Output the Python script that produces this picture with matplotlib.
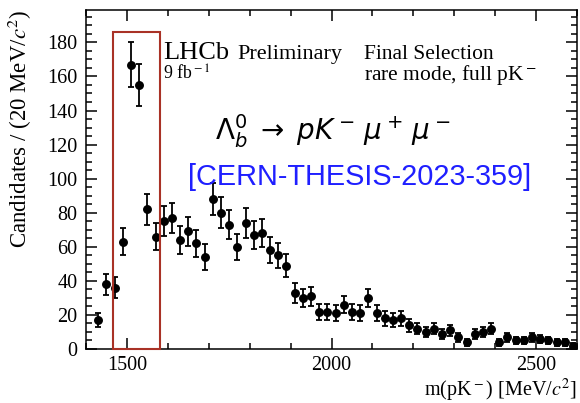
import numpy as np
import matplotlib
matplotlib.use('Agg')
import matplotlib.pyplot as plt
from matplotlib.patches import Rectangle
from matplotlib.ticker import MultipleLocator

plt.rcParams['font.family'] = ['Liberation Serif', 'DejaVu Serif']
plt.rcParams['mathtext.fontset'] = 'stix'

# m(pK-) bin centres (20 MeV bins) and candidate counts per bin
mass = [1430, 1450, 1470, 1490, 1510, 1530, 1550, 1570, 1590, 1610,
        1630, 1650, 1670, 1690, 1710, 1730, 1750, 1770, 1790, 1810,
        1830, 1850, 1870, 1890, 1910, 1930, 1950, 1970, 1990, 2010,
        2030, 2050, 2070, 2090, 2110, 2130, 2150, 2170, 2190, 2210,
        2230, 2250, 2270, 2290, 2310, 2330, 2350, 2370, 2390, 2410,
        2430, 2450, 2470, 2490, 2510, 2530, 2550, 2570, 2590]
counts = [17, 38, 36, 63, 167, 155, 82, 66, 75, 77,
          64, 69, 62, 54, 88, 80, 73, 60, 74, 67,
          68, 58, 55, 49, 33, 30, 31, 22, 22, 21,
          26, 22, 21, 30, 21, 18, 17, 18, 14, 12,
          10, 12, 9, 11, 7, 4, 9, 10, 12, 4,
          7, 5, 5, 7, 6, 5, 4, 4, 2]

# highlighted Lambda(1520) window
box_lo, box_hi, box_top = 1467, 1581, 186

counts = np.array(counts, dtype=float)
errors = np.sqrt(counts)

fig = plt.figure(figsize=(5.8, 4.03), dpi=100)
ax = fig.add_axes([86 / 580, 1 - 349 / 403, 491 / 580, 339 / 403])

ax.errorbar(mass, counts, yerr=errors, fmt='o', color='black', ms=5.4,
            elinewidth=1.3, capsize=2.4, capthick=1.3)

ax.add_patch(Rectangle((box_lo, 0), box_hi - box_lo, box_top, fill=False,
                       edgecolor='#a93226', lw=1.5, clip_on=False, zorder=5))

ax.set_xlim(1400, 2600)
ax.set_ylim(0, 199)
ax.xaxis.set_major_locator(MultipleLocator(500))
ax.xaxis.set_minor_locator(MultipleLocator(100))
ax.yaxis.set_major_locator(MultipleLocator(20))
ax.yaxis.set_minor_locator(MultipleLocator(5))
ax.tick_params(which='both', direction='in', top=True, right=True,
               width=1.1, labelsize=14.5)
ax.tick_params(which='major', length=8)
ax.tick_params(which='minor', length=4)
ax.tick_params(axis='y', pad=6)
ax.tick_params(axis='x', pad=5)
for s in ax.spines.values():
    s.set_linewidth(1.1)

ax.set_ylabel(r'Candidates / (20 MeV/$c^2$)', fontsize=16.5, loc='top')
ax.yaxis.set_label_coords(-0.105, 1.0)
ax.set_xlabel(r'm(pK$^{\rm -}$) [MeV/$c^2$]', fontsize=14.5, loc='right')
ax.xaxis.set_label_coords(1.0, -0.082)

tr = ax.transAxes
ax.text(0.157, 0.855, 'LHCb', fontsize=19, transform=tr, va='baseline')
ax.text(0.3075, 0.855, 'Preliminary', fontsize=16, transform=tr, va='baseline')
ax.text(0.157, 0.793, r'9 fb$^{\rm -1}$', fontsize=12.8, transform=tr, va='baseline')
ax.text(0.566, 0.855, 'Final Selection', fontsize=15.5, transform=tr, va='baseline')
ax.text(0.566, 0.794, r'rare mode, full pK$^{\rm -}$', fontsize=15.5,
        transform=tr, va='baseline')
ax.text(0.263, 0.617, r'$\Lambda_b^0 \;\rightarrow\; pK^-\,\mu^+\,\mu^-$', fontsize=20,
        math_fontfamily='dejavusans', transform=tr, va='baseline')
ax.text(0.208, 0.484, '[CERN-THESIS-2023-359]', fontsize=20.8, color='#1f1fff',
        family=['Liberation Sans', 'DejaVu Sans'], transform=tr, va='baseline')

fig.savefig('out.png', dpi=100)
